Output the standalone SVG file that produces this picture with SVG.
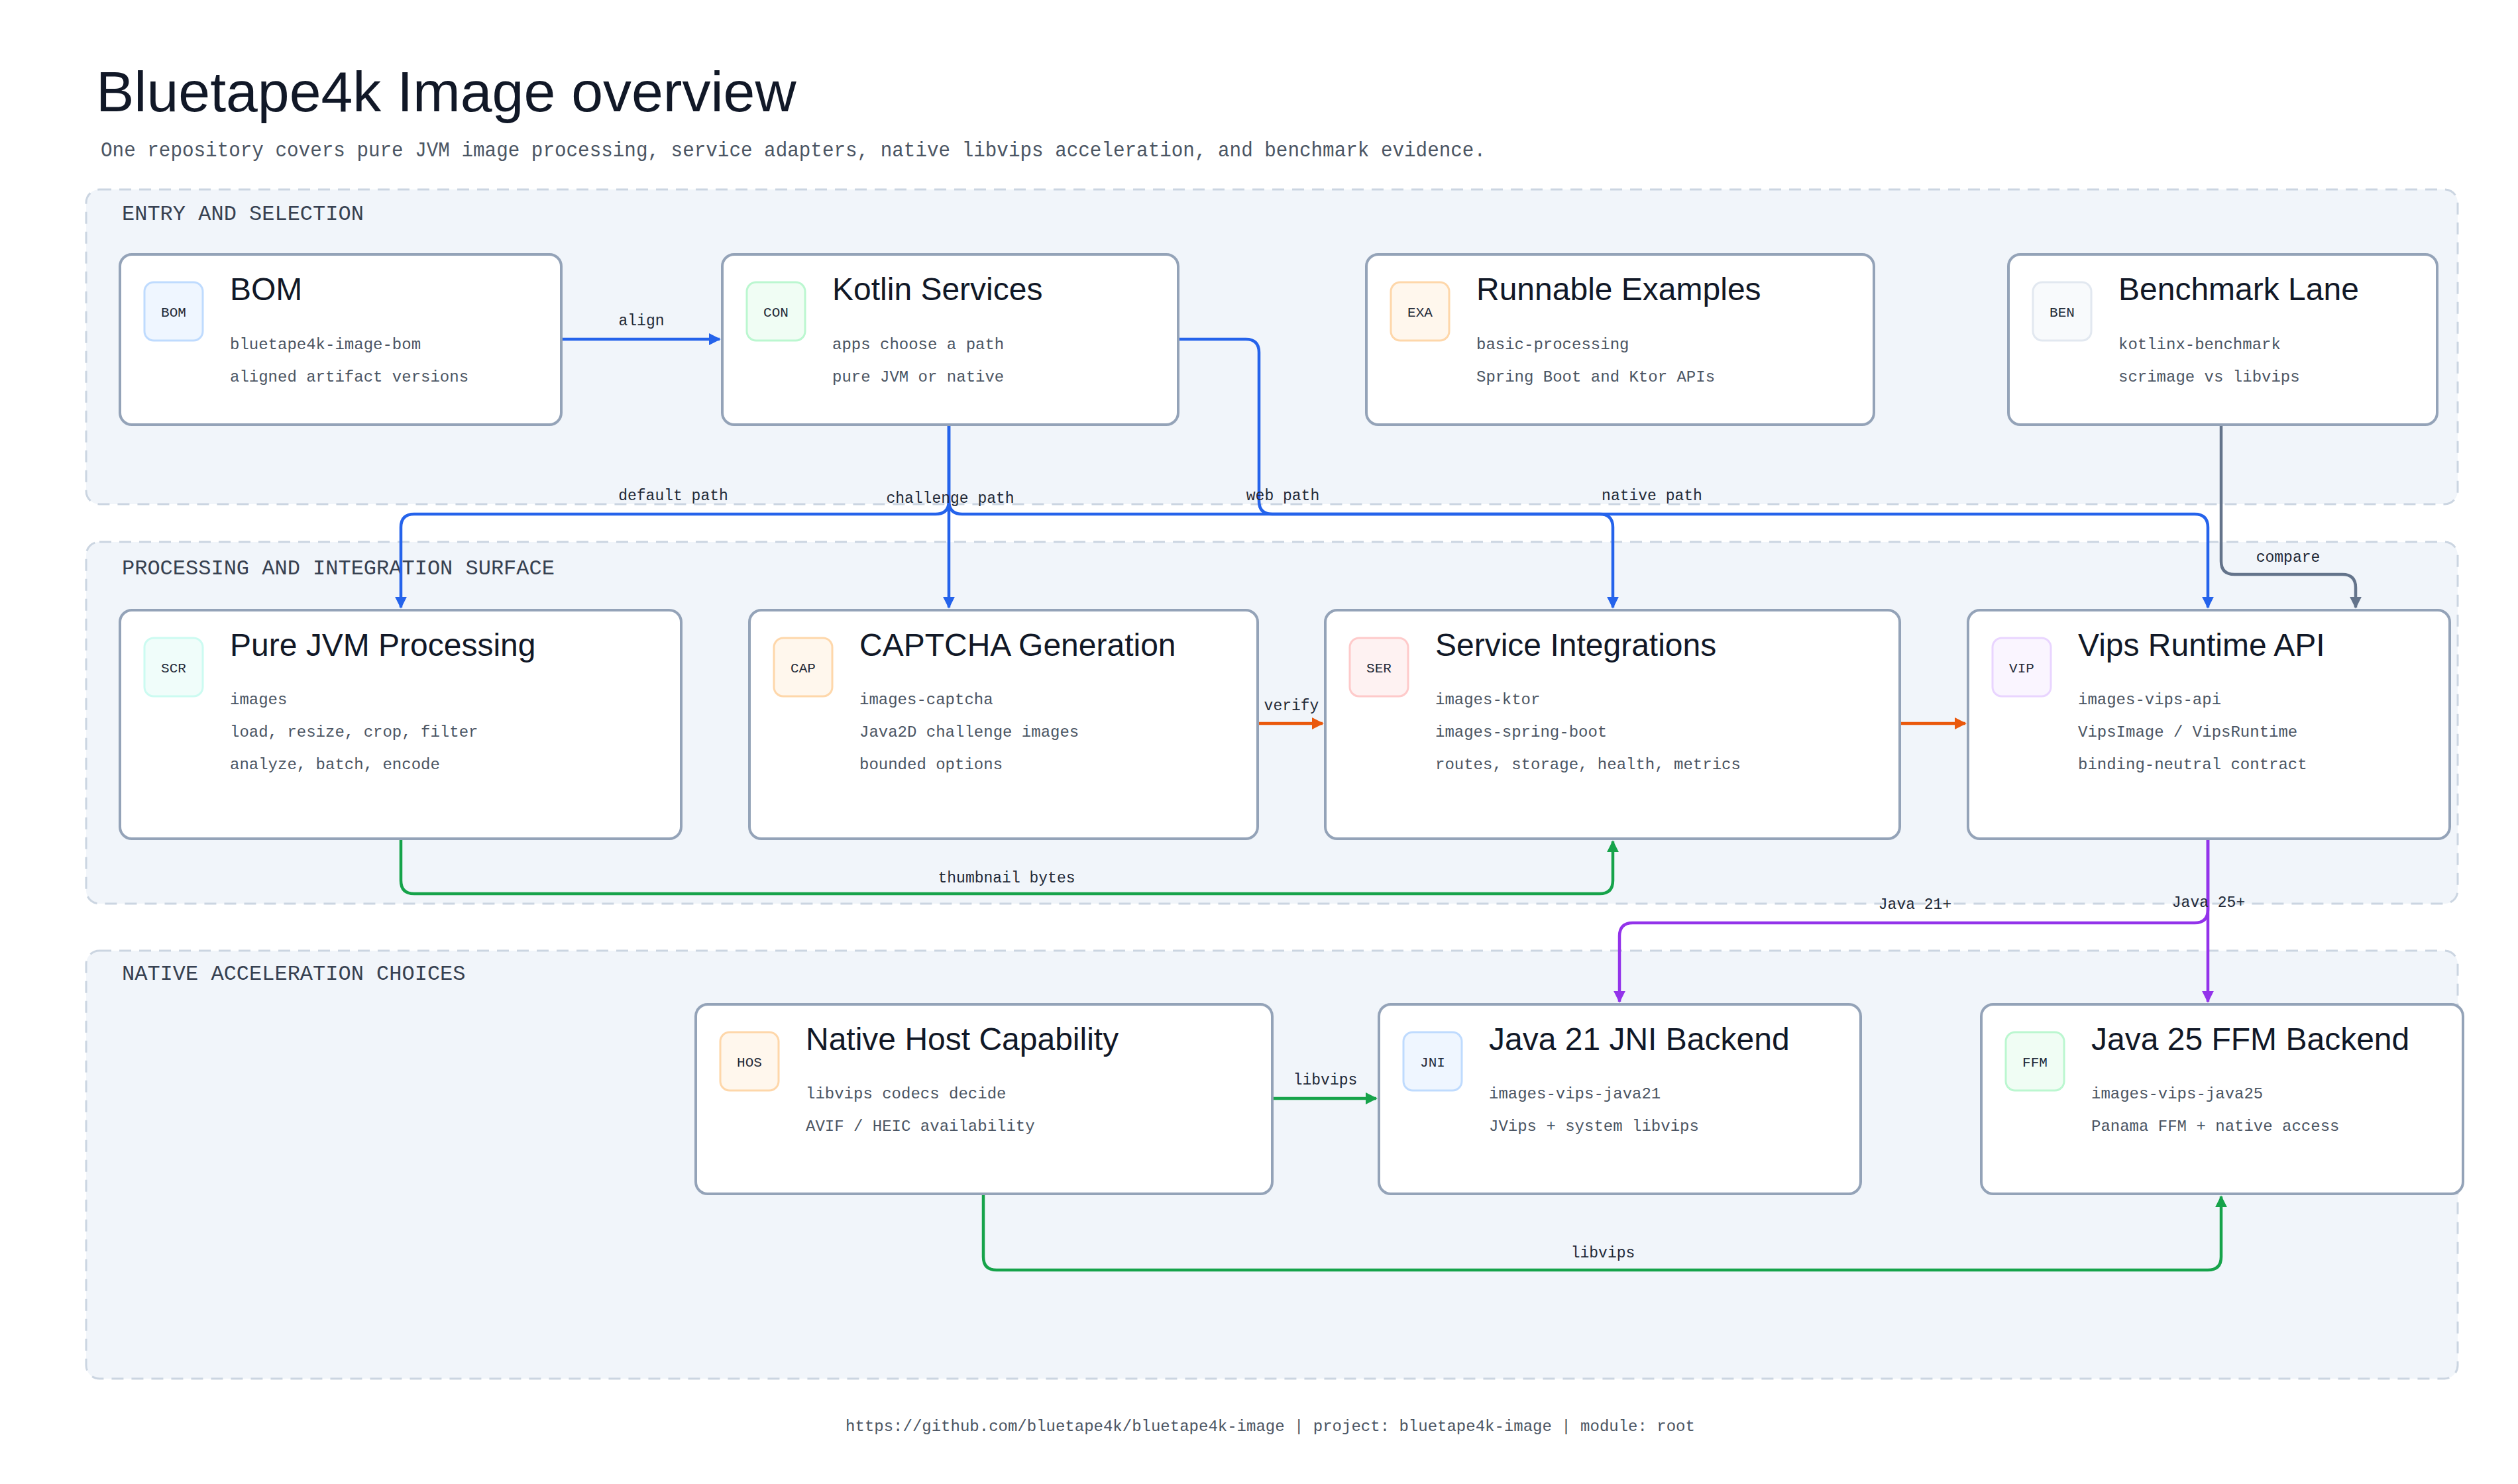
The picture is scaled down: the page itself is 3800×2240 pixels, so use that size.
<svg xmlns="http://www.w3.org/2000/svg" width="3800" height="2240" viewBox="0 0 3800 2240">
<style>
.title{font-family:"Liberation Sans",sans-serif;font-size:86px;fill:#111827}
.sub{font-family:"Liberation Mono",monospace;font-size:31px;fill:#4b5563}
.grp{fill:#f1f5fa;stroke:#cbd5e1;stroke-width:3;stroke-dasharray:18 12}
.glab{font-family:"Liberation Mono",monospace;font-size:32px;fill:#374151}
.node{fill:#fff;stroke:#94a3b8;stroke-width:4}
.nt{font-family:"Liberation Sans",sans-serif;font-size:48px;fill:#111827}
.nl{font-family:"Liberation Mono",monospace;font-size:24px;fill:#4b5563}
.it{font-family:"Liberation Mono",monospace;font-size:21px;fill:#1f2937;text-anchor:middle}
.cl{font-family:"Liberation Mono",monospace;font-size:23px;fill:#1f2937;text-anchor:middle}
.foot{font-family:"Liberation Mono",monospace;font-size:24px;fill:#4b5563;text-anchor:middle}
.c{fill:none;stroke-width:4.5;stroke-linejoin:round}
.blue{stroke:#2563eb}.gray{stroke:#64748b}.orange{stroke:#ea580c}.green{stroke:#16a34a}.purple{stroke:#9333ea}
</style>
<defs>
<marker id="ab" viewBox="0 0 10 10" refX="9" refY="5" markerWidth="4" markerHeight="4" orient="auto"><path d="M0 0L10 5L0 10z" fill="#2563eb"/></marker>
<marker id="ag" viewBox="0 0 10 10" refX="9" refY="5" markerWidth="4" markerHeight="4" orient="auto"><path d="M0 0L10 5L0 10z" fill="#64748b"/></marker>
<marker id="ao" viewBox="0 0 10 10" refX="9" refY="5" markerWidth="4" markerHeight="4" orient="auto"><path d="M0 0L10 5L0 10z" fill="#ea580c"/></marker>
<marker id="agr" viewBox="0 0 10 10" refX="9" refY="5" markerWidth="4" markerHeight="4" orient="auto"><path d="M0 0L10 5L0 10z" fill="#16a34a"/></marker>
<marker id="ap" viewBox="0 0 10 10" refX="9" refY="5" markerWidth="4" markerHeight="4" orient="auto"><path d="M0 0L10 5L0 10z" fill="#9333ea"/></marker>
</defs>
<rect width="3800" height="2240" fill="#fff"/>
<text class="title" x="145" y="168">Bluetape4k Image overview</text>
<text class="sub" x="152" y="236" textLength="2090" lengthAdjust="spacingAndGlyphs">One repository covers pure JVM image processing, service adapters, native libvips acceleration, and benchmark evidence.</text>

<g id="groups">
<rect class="grp" x="130" y="286" width="3579" height="475" rx="20"/>
<text class="glab" x="184" y="332">ENTRY AND SELECTION</text>
<rect class="grp" x="130" y="818" width="3579" height="546" rx="20"/>
<text class="glab" x="184" y="867">PROCESSING AND INTEGRATION SURFACE</text>
<rect class="grp" x="130" y="1435" width="3579" height="646" rx="20"/>
<text class="glab" x="184" y="1479">NATIVE ACCELERATION CHOICES</text>
</g>

<g id="connectors">
<path class="c blue" d="M847 512H1086" marker-end="url(#ab)"/>
<path class="c blue" d="M1432 641V756Q1432 776 1412 776H625Q605 776 605 796V917" marker-end="url(#ab)"/>
<path class="c blue" d="M1432 641V917" marker-end="url(#ab)"/>
<path class="c blue" d="M1778 512H1880Q1900 512 1900 532V756Q1900 776 1920 776H2414Q2434 776 2434 796V917" marker-end="url(#ab)"/>
<path class="c blue" d="M1432 756Q1432 776 1452 776H3312Q3332 776 3332 796V917" marker-end="url(#ab)"/>
<path class="c gray" d="M3352 641V847Q3352 867 3372 867H3535Q3555 867 3555 887V917" marker-end="url(#ag)"/>
<path class="c orange" d="M1898 1092H1996" marker-end="url(#ao)"/>
<path class="c orange" d="M2867 1092H2966" marker-end="url(#ao)"/>
<path class="c green" d="M605 1266V1329Q605 1349 625 1349H2414Q2434 1349 2434 1329V1270" marker-end="url(#agr)"/>
<path class="c purple" d="M3332 1266V1373Q3332 1393 3312 1393H2464Q2444 1393 2444 1413V1512" marker-end="url(#ap)"/>
<path class="c purple" d="M3332 1266V1512" marker-end="url(#ap)"/>
<path class="c green" d="M1920 1658H2077" marker-end="url(#agr)"/>
<path class="c green" d="M1484 1802V1897Q1484 1917 1504 1917H3332Q3352 1917 3352 1897V1806" marker-end="url(#agr)"/>
<text class="cl" x="968" y="491">align</text>
<text class="cl" x="1016" y="755">default path</text>
<text class="cl" x="1434" y="759">challenge path</text>
<text class="cl" x="1936" y="755">web path</text>
<text class="cl" x="2493" y="755">native path</text>
<text class="cl" x="3453" y="848">compare</text>
<text class="cl" x="1949" y="1072">verify</text>
<text class="cl" x="1519" y="1332">thumbnail bytes</text>
<text class="cl" x="2890" y="1372">Java 21+</text>
<text class="cl" x="3333" y="1369">Java 25+</text>
<text class="cl" x="2000" y="1637">libvips</text>
<text class="cl" x="2419" y="1898">libvips</text>
</g>

<g id="n-bom"><rect class="node" x="181" y="384" width="666" height="257" rx="18"/><rect x="218" y="426" width="88" height="88" rx="14" fill="#eff6ff" stroke="#bfdbfe" stroke-width="3"/><text class="it" x="262" y="478">BOM</text><text class="nt" x="347" y="453">BOM</text><text class="nl" x="347" y="527">bluetape4k-image-bom</text><text class="nl" x="347" y="576">aligned artifact versions</text></g>
<g id="n-con"><rect class="node" x="1090" y="384" width="688" height="257" rx="18"/><rect x="1127" y="426" width="88" height="88" rx="14" fill="#f0fdf4" stroke="#bbf7d0" stroke-width="3"/><text class="it" x="1171" y="478">CON</text><text class="nt" x="1256" y="453">Kotlin Services</text><text class="nl" x="1256" y="527">apps choose a path</text><text class="nl" x="1256" y="576">pure JVM or native</text></g>
<g id="n-exa"><rect class="node" x="2062" y="384" width="766" height="257" rx="18"/><rect x="2099" y="426" width="88" height="88" rx="14" fill="#fff7ed" stroke="#fed7aa" stroke-width="3"/><text class="it" x="2143" y="478">EXA</text><text class="nt" x="2228" y="453">Runnable Examples</text><text class="nl" x="2228" y="527">basic-processing</text><text class="nl" x="2228" y="576">Spring Boot and Ktor APIs</text></g>
<g id="n-ben"><rect class="node" x="3031" y="384" width="647" height="257" rx="18"/><rect x="3068" y="426" width="88" height="88" rx="14" fill="#f8fafc" stroke="#e2e8f0" stroke-width="3"/><text class="it" x="3112" y="478">BEN</text><text class="nt" x="3197" y="453">Benchmark Lane</text><text class="nl" x="3197" y="527">kotlinx-benchmark</text><text class="nl" x="3197" y="576">scrimage vs libvips</text></g>

<g id="n-scr"><rect class="node" x="181" y="921" width="847" height="345" rx="18"/><rect x="218" y="963" width="88" height="88" rx="14" fill="#f0fdfa" stroke="#ccfbf1" stroke-width="3"/><text class="it" x="262" y="1015">SCR</text><text class="nt" x="347" y="990">Pure JVM Processing</text><text class="nl" x="347" y="1063">images</text><text class="nl" x="347" y="1112">load, resize, crop, filter</text><text class="nl" x="347" y="1161">analyze, batch, encode</text></g>
<g id="n-cap"><rect class="node" x="1131" y="921" width="767" height="345" rx="18"/><rect x="1168" y="963" width="88" height="88" rx="14" fill="#fff7ed" stroke="#fed7aa" stroke-width="3"/><text class="it" x="1212" y="1015">CAP</text><text class="nt" x="1297" y="990">CAPTCHA Generation</text><text class="nl" x="1297" y="1063">images-captcha</text><text class="nl" x="1297" y="1112">Java2D challenge images</text><text class="nl" x="1297" y="1161">bounded options</text></g>
<g id="n-ser"><rect class="node" x="2000" y="921" width="867" height="345" rx="18"/><rect x="2037" y="963" width="88" height="88" rx="14" fill="#fef2f2" stroke="#fecaca" stroke-width="3"/><text class="it" x="2081" y="1015">SER</text><text class="nt" x="2166" y="990">Service Integrations</text><text class="nl" x="2166" y="1063">images-ktor</text><text class="nl" x="2166" y="1112">images-spring-boot</text><text class="nl" x="2166" y="1161">routes, storage, health, metrics</text></g>
<g id="n-vip"><rect class="node" x="2970" y="921" width="727" height="345" rx="18"/><rect x="3007" y="963" width="88" height="88" rx="14" fill="#faf5ff" stroke="#e9d5ff" stroke-width="3"/><text class="it" x="3051" y="1015">VIP</text><text class="nt" x="3136" y="990">Vips Runtime API</text><text class="nl" x="3136" y="1063">images-vips-api</text><text class="nl" x="3136" y="1112">VipsImage / VipsRuntime</text><text class="nl" x="3136" y="1161">binding-neutral contract</text></g>

<g id="n-hos"><rect class="node" x="1050" y="1516" width="870" height="286" rx="18"/><rect x="1087" y="1558" width="88" height="88" rx="14" fill="#fff7ed" stroke="#fed7aa" stroke-width="3"/><text class="it" x="1131" y="1610">HOS</text><text class="nt" x="1216" y="1585">Native Host Capability</text><text class="nl" x="1216" y="1658">libvips codecs decide</text><text class="nl" x="1216" y="1707">AVIF / HEIC availability</text></g>
<g id="n-jni"><rect class="node" x="2081" y="1516" width="727" height="286" rx="18"/><rect x="2118" y="1558" width="88" height="88" rx="14" fill="#eff6ff" stroke="#bfdbfe" stroke-width="3"/><text class="it" x="2162" y="1610">JNI</text><text class="nt" x="2247" y="1585">Java 21 JNI Backend</text><text class="nl" x="2247" y="1658">images-vips-java21</text><text class="nl" x="2247" y="1707">JVips + system libvips</text></g>
<g id="n-ffm"><rect class="node" x="2990" y="1516" width="727" height="286" rx="18"/><rect x="3027" y="1558" width="88" height="88" rx="14" fill="#f0fdf4" stroke="#bbf7d0" stroke-width="3"/><text class="it" x="3071" y="1610">FFM</text><text class="nt" x="3156" y="1585">Java 25 FFM Backend</text><text class="nl" x="3156" y="1658">images-vips-java25</text><text class="nl" x="3156" y="1707">Panama FFM + native access</text></g>

<text class="foot" x="1917" y="2160">https://github.com/bluetape4k/bluetape4k-image | project: bluetape4k-image | module: root</text>
</svg>
